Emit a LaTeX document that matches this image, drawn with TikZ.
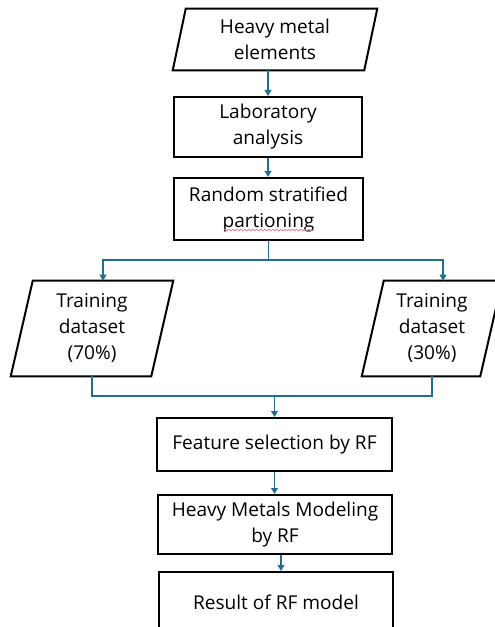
\documentclass[tikz,border=0pt]{standalone}
\usepackage{fontspec}
\setmainfont{Open Sans}
\usetikzlibrary{calc,arrows.meta,decorations.pathmorphing}
\definecolor{conn}{RGB}{33,110,145}
\definecolor{spell}{RGB}{235,120,120}
\tikzset{
  txt/.style={align=center,inner sep=0pt,font=\fontsize{14.3}{19.5}\selectfont},
  boxnode/.style={txt,draw=black,line width=1.5pt},
  paranode/.style={txt},
  paraline/.style={draw=black,line width=1.5pt,line join=miter},
  conline/.style={draw=conn,line width=1.3pt},
  arr/.style={conline,-{Triangle[length=4.5pt,width=5pt]}}
}
\begin{document}
\begin{tikzpicture}[x=0.75pt,y=-0.75pt]
\useasboundingbox (0,0) rectangle (495,627);
\fill[white] (0,0) rectangle (495,627);
\clip (0,0) rectangle (495,627);

% nodes
\node[paranode,minimum width=143.25pt,minimum height=45.75pt] (hm) at (275,39.5) {Heavy metal\\elements};
\node[boxnode,minimum width=141pt,minimum height=45pt] (lab) at (268,127) {Laboratory\\analysis};
\node[boxnode,minimum width=141.75pt,minimum height=46.5pt] (rnd) at (268.5,209) {Random stratified\\partioning};
\node[paranode,minimum width=105pt,minimum height=71.25pt] (trL) at (92,328.5) {Training\\dataset\\(70\%)};
\node[paranode,minimum width=88.5pt,minimum height=71.25pt] (trR) at (432,328.5) {Training\\dataset\\(30\%)};
\node[boxnode,minimum width=176.25pt,minimum height=39.75pt] (fs) at (274.5,444.5) {Feature selection by RF};
\node[boxnode,minimum width=175.5pt,minimum height=44.25pt] (hmm) at (275,524.5) {Heavy Metals Modeling\\by RF};
\node[boxnode,minimum width=175.5pt,minimum height=45pt] (res) at (276,602) {Result of RF model};

% parallelogram outlines
\draw[paraline] ($(hm.north west)+(6.5,0)$) -- ($(hm.north east)+(6.5,0)$) -- ($(hm.south east)+(-6.5,0)$) -- ($(hm.south west)+(-6.5,0)$) -- cycle;
\draw[paraline] ($(trL.north west)+(11,0)$) -- ($(trL.north east)+(11,0)$) -- ($(trL.south east)+(-11,0)$) -- ($(trL.south west)+(-11,0)$) -- cycle;
\draw[paraline] ($(trR.north west)+(11,0)$) -- ($(trR.north east)+(11,0)$) -- ($(trR.south east)+(-11,0)$) -- ($(trR.south west)+(-11,0)$) -- cycle;

% spell-check underline
\draw[spell,line width=0.6pt,decorate,decoration={snake,amplitude=0.5pt,segment length=3pt}]
  ($(rnd.center)+(-45,21)$) -- ($(rnd.center)+(45,21)$);

% helper coordinates
\coordinate (sp) at ($(rnd.south)+(0,19)$);
\coordinate (trLtop) at ($(trL.north)+(11,0)$);
\coordinate (trRtop) at ($(trR.north)+(11,0)$);
\coordinate (jn) at ($(fs.north)+(0,-21)$);

% connectors
\draw[arr] (hm.south -| lab.north) -- (lab.north);
\draw[arr] (lab.south) -- (lab.south |- rnd.north);
\draw[conline] (rnd.south) -- (sp);
\draw[arr] (sp) -| (trLtop);
\draw[arr] (sp) -| (trRtop);
\draw[conline] (trL.south) |- (jn) -| (trR.south);
\draw[arr] (jn) -- (fs.north);
\draw[arr] (fs.south) -- (fs.south |- hmm.north);
\draw[arr] ($(hmm.south)+(6,0)$) -- ($(res.north)+(5,0)$);
\end{tikzpicture}
\end{document}
